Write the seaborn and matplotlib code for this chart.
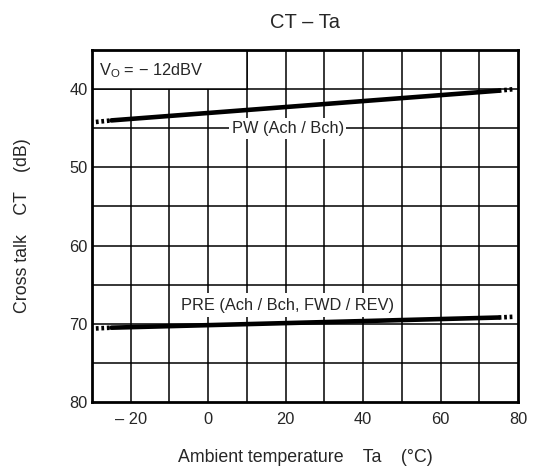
import numpy as np
import pandas as pd

import matplotlib
matplotlib.use("Agg")
import matplotlib.pyplot as plt
import seaborn as sns
from matplotlib.patches import Rectangle


# ============================================================
# DATA
# ============================================================

temp_solid = [-25, 75]
pw_solid = [44.0, 40.2]
pre_solid = [70.5, 69.2]

temp_left = [-29, -25]
pw_left = [44.2, 44.0]
pre_left = [70.6, 70.5]

temp_right = [75, 79]
pw_right = [40.2, 40.0]
pre_right = [69.2, 69.1]

x_ticks = [-20, 0, 20, 40, 60, 80]
x_tick_labels = ["\u2013 20", "0", "20", "40", "60", "80"]
y_ticks = [40, 50, 60, 70, 80]


# ============================================================
# STYLE
# ============================================================

sns.set_style("white")
plt.rcParams["font.family"] = ["Liberation Sans", "DejaVu Sans"]
plt.rcParams["mathtext.fontset"] = "custom"
plt.rcParams["mathtext.rm"] = "Liberation Sans"
plt.rcParams["mathtext.it"] = "Liberation Sans"

FS = 11.8


# ============================================================
# PLOT
# ============================================================

fig = plt.figure(figsize=(5.33, 4.70), dpi=100)
ax = fig.add_axes([0.1726, 0.1447, 0.7993, 0.7489])

ax.set_xlim(-30, 80)
ax.set_ylim(80, 35)

# grid
for gx in range(-20, 80, 10):
    ax.axvline(gx, color="black", lw=1.1, zorder=1)
for gy in range(40, 80, 5):
    ax.axhline(gy, color="black", lw=1.1, zorder=1)

# V_O box
ax.add_patch(Rectangle((-30, 35), 40, 5, facecolor="white",
                       edgecolor="black", lw=1.1, zorder=2))
ax.text(-28.3, 37.6, "V$_{\\rm O}$ = \u2212 12dBV", ha="left", va="center",
        fontsize=FS, zorder=3)

solid = pd.DataFrame({
    "Ta": temp_solid * 2,
    "CT": pw_solid + pre_solid,
    "mode": ["PW"] * 2 + ["PRE"] * 2,
})
sns.lineplot(data=solid, x="Ta", y="CT", units="mode", estimator=None,
             color="black", lw=3.3, ax=ax, zorder=4)

for xs, ys in [(temp_left, pw_left), (temp_left, pre_left),
               (temp_right, pw_right), (temp_right, pre_right)]:
    sns.lineplot(x=xs, y=ys, color="black", lw=3.3, ax=ax, zorder=4,
                 linestyle=(0, (0.6, 0.6)))

ax.text(20.5, 45, "PW (Ach / Bch)", ha="center", va="center",
        fontsize=FS, zorder=3,
        bbox=dict(facecolor="white", edgecolor="none", pad=2.0))
ax.text(20.4, 67.6, "PRE (Ach / Bch, FWD / REV)", ha="center",
        va="center", fontsize=FS, zorder=3,
        bbox=dict(facecolor="white", edgecolor="none", pad=3.5))

ax.set_xticks(x_ticks)
ax.set_xticklabels(x_tick_labels)
ax.set_yticks(y_ticks)
ax.tick_params(axis="x", length=0, labelsize=FS, pad=7)
ax.tick_params(axis="y", length=0, labelsize=FS, pad=3)

for s in ax.spines.values():
    s.set_visible(True)
    s.set_color("black")
    s.set_linewidth(2.0)

ax.set_xlabel("Ambient temperature    Ta    (\u00b0C)", fontsize=12.8,
              labelpad=16)
ax.set_ylabel("Cross talk    CT    (dB)", fontsize=12.8, labelpad=28)
ax.set_title("CT \u2013 Ta", fontsize=14.5, pad=16)

fig.savefig("out.png", dpi=100)
